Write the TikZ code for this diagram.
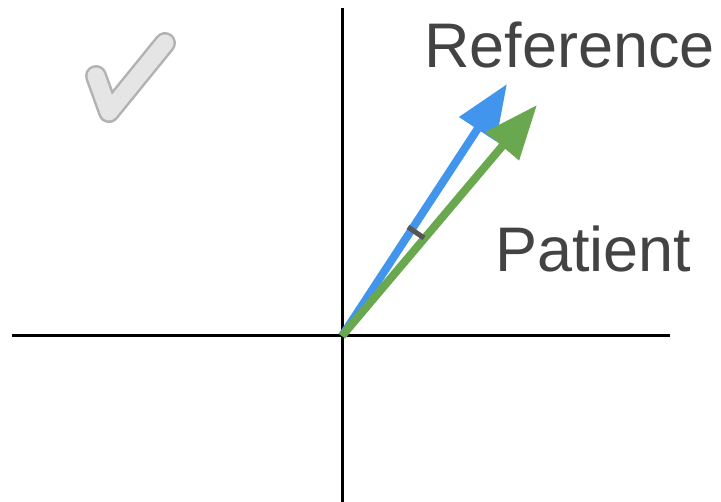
\documentclass[tikz,border=0pt]{standalone}
\usepackage{fontspec}
\setmainfont{Liberation Sans}
\usetikzlibrary{arrows.meta}
\definecolor{refblue}{HTML}{4295EC}
\definecolor{patgreen}{HTML}{6AA84F}
\definecolor{txtgrey}{HTML}{434343}
\begin{document}
\begin{tikzpicture}[x=1pt,y=-1pt]
    \tikzset{axis/.style = {draw=black, line width=3pt}}
    \tikzset{vec/.style = {line width=8pt, -{Triangle[length=54pt,width=42pt]}}}
    \tikzset{lbl/.style = {text=txtgrey, font=\fontsize{63}{70}\selectfont, inner sep=0pt, anchor=base west}}
    \useasboundingbox (0,0) rectangle (721,502);

    % axes
    \coordinate (o) at (342,336);
    \coordinate (xl) at (12,336);
    \coordinate (xr) at (670,336);
    \coordinate (yt) at (342,8);
    \coordinate (yb) at (342,502);
    \draw[axis] (xl) -- (xr);
    \draw[axis] (yt) -- (yb);

    % vectors
    \coordinate (reftip) at (507,84);
    \coordinate (pattip) at (537,105);
    \draw[vec, draw=refblue, fill=refblue] (o) -- (reftip);
    \draw[vec, draw=patgreen, fill=patgreen] (o) -- (pattip);

    % angle mark
    \coordinate (m1) at (408,227);
    \coordinate (m2) at (424,238);
    \draw[draw=txtgrey!90, line width=5pt] (m1) -- (m2);

    % labels
    \node[lbl] (ref) at (424,68) {Reference};
    \node[lbl] (pat) at (495,272) {Patient};

    % check mark
    \coordinate (c1) at (96,76);
    \coordinate (c2) at (109,112);
    \coordinate (c3) at (165,43);
    \draw[line width=22pt, draw=black!30, line cap=round, line join=round] (c1) -- (c2) -- (c3);
    \draw[line width=17pt, draw=black!10, line cap=round, line join=round] (c1) -- (c2) -- (c3);
\end{tikzpicture}
\end{document}
